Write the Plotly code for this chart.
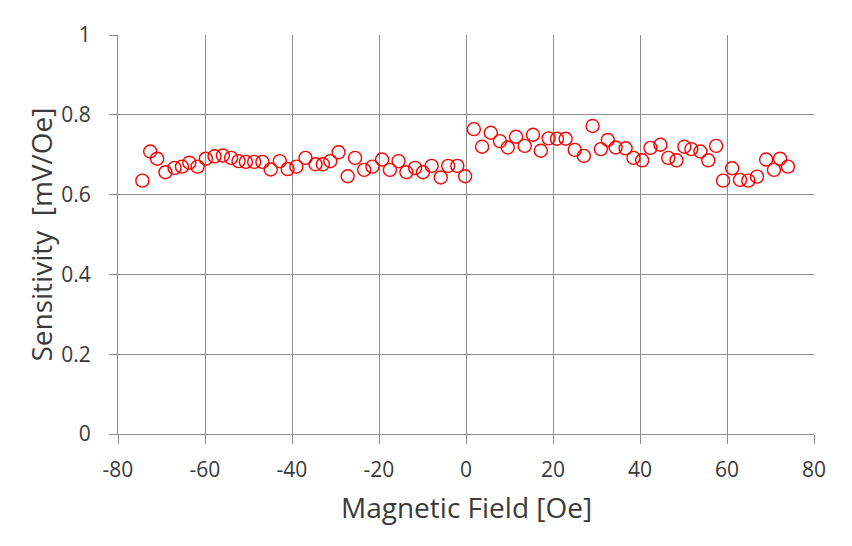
import plotly.graph_objects as go

field_neg = [-74.4, -72.6, -71.0, -69.1, -67.0, -65.3, -63.6, -61.7, -59.8, -57.8,
             -55.9, -54.0, -52.3, -50.6, -48.7, -46.8, -44.9, -42.8, -41.0, -39.0,
             -36.9, -34.6, -32.9, -31.2, -29.3, -27.2, -25.5, -23.4, -21.5, -19.3,
             -17.5, -15.5, -13.7, -11.7, -9.9, -7.9, -5.8, -4.1, -2.0, -0.2]
sens_neg = [0.635, 0.708, 0.690, 0.656, 0.667, 0.670, 0.680, 0.670, 0.690, 0.696,
            0.698, 0.692, 0.684, 0.682, 0.682, 0.682, 0.663, 0.684, 0.664, 0.670,
            0.692, 0.676, 0.676, 0.684, 0.706, 0.646, 0.692, 0.662, 0.670, 0.688,
            0.662, 0.684, 0.656, 0.667, 0.656, 0.672, 0.643, 0.672, 0.672, 0.646]

field_pos = [1.8, 3.7, 5.7, 7.8, 9.6, 11.5, 13.5, 15.4, 17.2, 19.0,
             20.9, 22.9, 25.0, 27.1, 29.1, 31.0, 32.6, 34.4, 36.7, 38.5,
             40.5, 42.4, 44.7, 46.5, 48.4, 50.2, 51.8, 53.9, 55.7, 57.5,
             59.1, 61.2, 63.0, 64.9, 66.9, 69.0, 70.8, 72.2, 74.0]
sens_pos = [0.764, 0.720, 0.755, 0.734, 0.718, 0.745, 0.722, 0.750, 0.710, 0.741,
            0.740, 0.740, 0.712, 0.697, 0.772, 0.714, 0.737, 0.718, 0.716, 0.692,
            0.686, 0.717, 0.725, 0.692, 0.686, 0.720, 0.714, 0.708, 0.686, 0.722,
            0.635, 0.666, 0.637, 0.635, 0.645, 0.688, 0.662, 0.690, 0.670]

x_tick_vals = [-80, -60, -40, -20, 0, 20, 40, 60, 80]
x_tick_text = ["-80", "-60", "-40", "-20", "0", "20", "40", "60", "80"]
y_tick_vals = [0, 0.2, 0.4, 0.6, 0.8, 1]
y_tick_text = ["0", "0.2", "0.4", "0.6", "0.8", "1"]

x_title = "Magnetic Field [Oe]"
y_title = "Sensitivity  [mV/Oe]"

fig = go.Figure()
fig.add_trace(go.Scatter(
    x=field_neg + field_pos, y=sens_neg + sens_pos, mode="markers",
    marker=dict(symbol="circle-open", size=13, color="#FF0000", line=dict(width=1.4)),
    showlegend=False,
))

font_family = "Open Sans, Liberation Sans, sans-serif"
text_color = "#3A3A3A"
grid_color = "#8C8C8C"
fig.update_layout(
    width=852, height=546,
    margin=dict(l=110, r=46, t=13, b=120),
    paper_bgcolor="white", plot_bgcolor="white",
    font=dict(family=font_family, color=text_color, size=21),
    annotations=[
        dict(text=x_title, xref="paper", yref="paper", x=0.5, y=-0.184,
             xanchor="center", yanchor="middle", showarrow=False,
             font=dict(size=28, color=text_color)),
        dict(text=y_title, xref="paper", yref="paper", x=-0.112, y=0.5,
             xanchor="center", yanchor="middle", showarrow=False, textangle=-90,
             font=dict(size=28, color=text_color)),
    ],
)
fig.update_xaxes(
    range=[-80, 80], tickmode="array", tickvals=x_tick_vals, ticktext=x_tick_text,
    showgrid=True, gridcolor=grid_color, gridwidth=1,
    zeroline=False, showline=True, linecolor=grid_color, linewidth=1,
    ticks="outside", ticklen=9, tickcolor=grid_color, ticklabelstandoff=8,
    ticklabeloverflow="allow",
    tickfont=dict(size=21, color=text_color),
)
fig.update_yaxes(
    range=[0, 1], tickmode="array", tickvals=y_tick_vals, ticktext=y_tick_text,
    showgrid=True, gridcolor=grid_color, gridwidth=1,
    zeroline=False, showline=True, linecolor=grid_color, linewidth=1,
    ticks="outside", ticklen=8, tickcolor=grid_color, ticklabelstandoff=14,
    ticklabeloverflow="allow",
    tickfont=dict(size=21, color=text_color),
)

fig.write_html("out.html")
